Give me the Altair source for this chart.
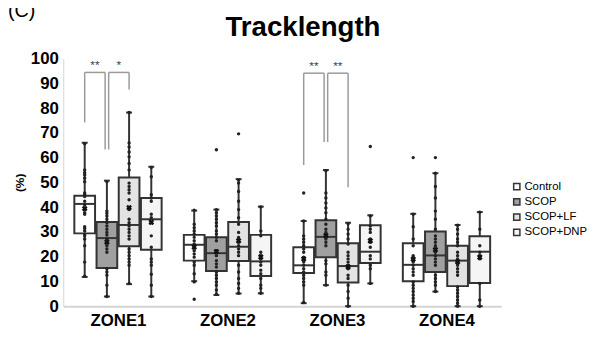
import altair as alt
import pandas as pd

zones = ["ZONE1", "ZONE2", "ZONE3", "ZONE4"]
groups = ["Control", "SCOP", "SCOP+LF", "SCOP+DNP"]
fills = ["#ffffff", "#a0a0a0", "#e3e3e3", "#f5f5f5"]

# box statistics, per zone, in group order
q1 = {"ZONE1": [29.4, 15.4, 24.2, 22.8], "ZONE2": [18.4, 14.2, 18.2, 12.2],
      "ZONE3": [13.4, 19.8, 9.6, 17.4], "ZONE4": [10.1, 13.8, 8.1, 9.4]}
med = {"ZONE1": [41.3, 27.5, 32.8, 35.1], "ZONE2": [24.8, 21.4, 24.0, 18.1],
       "ZONE3": [16.5, 28.0, 16.2, 22.0], "ZONE4": [16.7, 20.5, 18.4, 22.0]}
q3 = {"ZONE1": [44.6, 34.0, 52.0, 43.7], "ZONE2": [28.8, 27.8, 34.0, 28.8],
      "ZONE3": [23.8, 34.7, 25.4, 32.7], "ZONE4": [25.4, 30.2, 24.4, 28.2]}
wlo = {"ZONE1": [11.8, 3.9, 8.9, 3.9], "ZONE2": [10.1, 4.5, 5.1, 5.2],
       "ZONE3": [1.2, 8.5, 0.0, 9.2], "ZONE4": [0.0, 5.9, 0.0, 0.0]}
whi = {"ZONE1": [66.0, 50.7, 78.2, 56.3], "ZONE2": [38.6, 39.0, 51.3, 40.2],
       "ZONE3": [34.4, 55.0, 33.7, 36.7], "ZONE4": [37.3, 53.7, 32.8, 38.0]}
means = {"ZONE1": [39.4, 25.9, 39.8, 33.9], "ZONE2": [23.9, 22.0, 26.4, 19.9],
         "ZONE3": [19.1, 28.5, 15.9, 26.4], "ZONE4": [19.0, 22.8, 17.9, 19.8]}

# individual data points (including outliers)
pts = {
    ("ZONE1", "Control"): [65.6, 55.0, 53.9, 53.0, 51.7, 50.3, 45.7, 45.0, 44.3, 42.4, 41.0, 39.7, 39.0,
                           37.7, 37.1, 32.1, 31.4, 30.4, 29.1, 28.4, 27.1, 24.4, 17.8, 12.1],
    ("ZONE1", "SCOP"): [50.3, 38.4, 37.5, 36.4, 35.1, 33.7, 32.4, 31.1, 29.8, 28.7, 27.1, 25.8, 24.4,
                        23.1, 21.8, 15.1, 13.8, 12.5, 8.5, 3.9],
    ("ZONE1", "SCOP+LF"): [78.2, 65.9, 64.3, 62.3, 60.3, 57.6, 55.0, 49.7, 48.3, 47.0, 45.7, 43.0, 39.7,
                           39.0, 35.1, 33.7, 32.4, 31.1, 29.8, 28.4, 27.1, 23.1, 21.8, 20.4, 19.1,
                           17.8, 16.5, 9.2],
    ("ZONE1", "SCOP+DNP"): [56.0, 52.3, 45.0, 43.7, 42.4, 37.1, 35.7, 33.7, 28.4, 23.8, 19.1, 17.8,
                            16.5, 12.9, 8.5, 3.9],
    ("ZONE2", "Control"): [38.8, 33.1, 31.7, 30.4, 29.1, 27.8, 26.4, 25.1, 23.8, 22.4, 21.1, 19.8,
                           17.8, 16.5, 13.1, 9.8, 2.8],
    ("ZONE2", "SCOP"): [63.2, 39.0, 37.7, 36.4, 35.1, 33.7, 32.4, 30.4, 29.1, 27.8, 26.4, 22.4, 21.8,
                        20.4, 18.4, 17.1, 15.8, 13.8, 12.5, 11.2, 9.8, 8.5, 6.5, 4.8],
    ("ZONE2", "SCOP+LF"): [69.6, 51.0, 49.7, 46.3, 42.4, 39.0, 35.7, 33.1, 29.8, 27.8, 27.1, 25.8,
                           24.4, 23.1, 21.8, 20.4, 16.5, 13.8, 11.2, 9.2, 7.2, 5.2],
    ("ZONE2", "SCOP+DNP"): [40.1, 30.4, 28.4, 21.8, 20.4, 19.1, 17.8, 16.5, 14.5, 13.1, 11.2, 8.5,
                            7.2, 5.2],
    ("ZONE3", "Control"): [45.7, 34.4, 28.4, 27.1, 25.8, 24.4, 23.1, 21.8, 19.8, 19.1, 17.8, 16.5,
                           15.1, 13.8, 12.5, 11.2, 9.8, 8.5, 1.5],
    ("ZONE3", "SCOP"): [54.7, 45.7, 43.7, 41.7, 39.7, 37.7, 35.1, 33.1, 31.1, 29.8, 28.4, 27.1, 25.8,
                        24.4, 18.4, 17.1, 13.8, 12.5, 8.5],
    ("ZONE3", "SCOP+LF"): [33.3, 31.1, 29.1, 27.1, 25.1, 21.8, 20.4, 19.1, 17.8, 16.5, 15.1, 12.5,
                           11.2, 8.5, 5.9, 3.2, 0.0],
    ("ZONE3", "SCOP+DNP"): [64.5, 36.4, 32.4, 31.1, 29.8, 27.1, 25.8, 23.8, 20.4, 19.1, 16.5, 15.1,
                            9.2],
    ("ZONE4", "Control"): [60.0, 37.1, 32.1, 27.1, 24.4, 20.4, 19.1, 17.8, 16.5, 15.1, 13.8, 12.5,
                           9.8, 8.5, 7.2, 5.9, 4.5, 3.2, 1.9, 0.0],
    ("ZONE4", "SCOP"): [60.0, 53.7, 48.3, 43.7, 38.4, 35.1, 31.1, 28.4, 27.1, 25.8, 24.4, 23.1, 21.8,
                        20.4, 19.1, 17.8, 16.5, 12.5, 11.2, 9.8, 8.5, 5.9],
    ("ZONE4", "SCOP+LF"): [32.7, 31.1, 29.1, 27.1, 25.8, 24.4, 21.8, 20.4, 19.1, 17.8, 16.5, 15.1,
                           13.8, 12.5, 7.8, 6.5, 5.2, 3.9, 2.5, 1.2, 0.0],
    ("ZONE4", "SCOP+DNP"): [38.0, 31.1, 24.4, 21.8, 20.4, 19.1, 9.2, 2.5, 0.0],
}

# significance brackets: zone, left group, right group, top, left-leg bottom, right-leg bottom, label
brackets = [
    ("ZONE1", 0, 1, 94.4, 74.2, 63.3, "**"),
    ("ZONE1", 1, 2, 94.4, 63.3, 87.5, "*"),
    ("ZONE3", 0, 1, 94.1, 57.0, 66.3, "**"),
    ("ZONE3", 1, 2, 94.1, 66.3, 48.0, "**"),
]

# ---- layout helpers (in x-scale units: one zone = 1 unit) ----
PX = 111.0
STEP = 22.5 / PX
HALF = 10.5 / PX
CAP = 3.0 / PX
GAP = 1.8 / PX


def xc(zi, gi):
    return zi + 0.5 + (gi - 1.5) * STEP


rows = []
for zi, z in enumerate(zones):
    for gi, g in enumerate(groups):
        c = xc(zi, gi)
        rows.append(dict(zone=z, group=g, xc=c, xl=c - HALF, xr=c + HALF,
                         cl=c - CAP, cr=c + CAP,
                         q1=q1[z][gi], med=med[z][gi], q3=q3[z][gi],
                         lo=wlo[z][gi], hi=whi[z][gi], mean=means[z][gi]))
box_df = pd.DataFrame(rows)

prow = []
for (z, g), vals in pts.items():
    c = xc(zones.index(z), groups.index(g))
    for v in vals:
        prow.append(dict(zone=z, group=g, xc=c, value=v))
pt_df = pd.DataFrame(prow)

seg = []
lab = []
for bi, (z, g1, g2, top, lb, rb, txt) in enumerate(brackets):
    zi = zones.index(z)
    xa = xc(zi, g1) - (0 if g1 == 0 else -GAP)
    xb = xc(zi, g2) - (GAP if g2 == 1 else 0)
    seg.append(dict(x=xa, x2=xa, y=lb, y2=top))
    seg.append(dict(x=xa, x2=xb, y=top, y2=top))
    seg.append(dict(x=xb, x2=xb, y=rb, y2=top))
    lab.append(dict(x=(xa + xb) / 2, y=top + 1.2, t=txt))
seg_df = pd.DataFrame(seg)
lab_df = pd.DataFrame(lab)

FONT = "Liberation Sans"
xscale = alt.Scale(domain=[0, 4], nice=False, zero=False)
yscale = alt.Scale(domain=[0, 100], nice=False, zero=True)
label_expr = "['ZONE1','ZONE2','ZONE3','ZONE4'][floor(datum.value)]"
xaxis = alt.Axis(values=[0.5, 1.5, 2.5, 3.5], labelExpr=label_expr, ticks=False, grid=False,
                 domainColor="#d4d4d4", domainWidth=2, labelFontSize=17, labelFontWeight="bold",
                 labelColor="#000000", labelPadding=7, labelFont=FONT, title=None)
yaxis = alt.Axis(values=list(range(0, 101, 10)), ticks=False, grid=False, domainColor="#d4d4d4",
                 domainWidth=1, labelFontSize=17, labelFontWeight="bold", labelColor="#000000",
                 labelPadding=5, labelFont=FONT, title="(%)", titleFontSize=12,
                 titleFontWeight="bold", titleColor="#000000", titleFont=FONT, titlePadding=4)


def X(f):
    return alt.X(f, type="quantitative", scale=xscale, axis=xaxis)


def Y(f):
    return alt.Y(f, type="quantitative", scale=yscale, axis=yaxis)


base = alt.Chart(box_df)
whisk = base.mark_rule(color="#333333", strokeWidth=2).encode(x=X("xc"), y=Y("lo"), y2="hi")
cap_lo = base.mark_rule(color="#333333", strokeWidth=2).encode(x=X("cl"), x2="cr", y=Y("lo"))
cap_hi = base.mark_rule(color="#333333", strokeWidth=2).encode(x=X("cl"), x2="cr", y=Y("hi"))
boxes = base.mark_rect(stroke="#333333", strokeWidth=2).encode(
    x=X("xl"), x2="xr", y=Y("q1"), y2="q3",
    fill=alt.Fill("group:N", scale=alt.Scale(domain=groups, range=fills),
                  legend=alt.Legend(title=None, orient="none", legendX=454, legendY=124,
                                    symbolType="square", symbolSize=40,
                                    symbolStrokeColor="#333333", symbolStrokeWidth=1.5,
                                    labelFontSize=11.5, labelFont=FONT, labelColor="#000000",
                                    rowPadding=2.5, labelOffset=2, labelLimit=0)))
medians = base.mark_rule(color="#333333", strokeWidth=2).encode(x=X("xl"), x2="xr", y=Y("med"))
dots = alt.Chart(pt_df).mark_circle(size=12, color="#222222", opacity=1).encode(
    x=X("xc"), y=Y("value"))
mean_mk = base.mark_point(shape="cross", angle=45, filled=True, size=35, color="#111111",
                          opacity=1).encode(x=X("xc"), y=Y("mean"))
br = alt.Chart(seg_df).mark_rule(color="#9a9a9a", strokeWidth=1.5).encode(
    x=X("x"), x2="x2", y=Y("y"), y2="y2")
stars = alt.Chart(lab_df).mark_text(fontSize=12, color="#444444", baseline="alphabetic",
                                    font=FONT).encode(x=X("x"), y=Y("y"), text="t:N")
panel = alt.Chart(pd.DataFrame({"t": ["(C)"]})).mark_text(
    fontSize=20, font=FONT, align="left", baseline="alphabetic", color="#000000").encode(
    x=alt.value(-56), y=alt.value(-42), text="t:N")
title = alt.Chart(pd.DataFrame({"t": ["Tracklength"]})).mark_text(
    fontSize=28, font=FONT, fontWeight="bold", align="center", baseline="alphabetic",
    color="#000000").encode(x=alt.value(243), y=alt.value(-23), text="t:N")

chart = alt.layer(whisk, cap_lo, cap_hi, boxes, medians, dots, mean_mk, br, stars, panel,
                  title).properties(
    width=444, height=251,
    autosize=alt.AutoSizeParams(type="none"),
    padding={"left": 56, "top": 49, "right": 92, "bottom": 30},
).configure_view(stroke=None)

chart.save("out.html", embed_options={"renderer": "svg", "actions": False})
